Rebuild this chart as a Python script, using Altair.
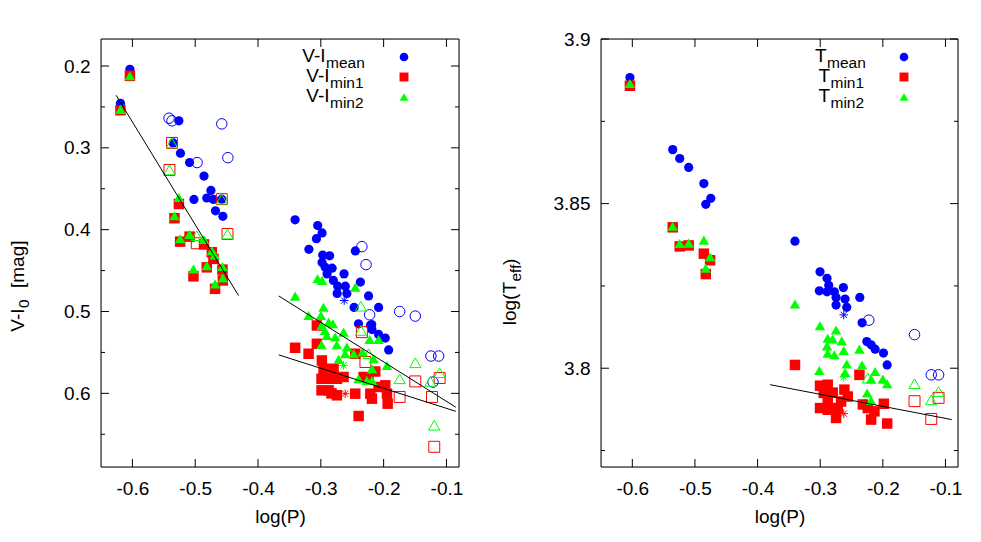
import altair as alt
import pandas as pd

# ---------------- data ----------------
X_TICKS = [-0.6, -0.5, -0.4, -0.3, -0.2, -0.1]
VI_TICKS_MAJOR = [0.2, 0.3, 0.4, 0.5, 0.6]
VI_TICKS_MINOR = [0.25, 0.35, 0.45, 0.55, 0.65]
T_TICKS_MAJOR = [3.8, 3.85, 3.9]
T_TICKS_MINOR = [3.775, 3.825, 3.875]

VI_MEAN = [(-0.604, 0.204), (-0.619, 0.2455), (-0.526, 0.267), (-0.535, 0.294), (-0.5235, 0.3065),
           (-0.509, 0.318), (-0.486, 0.3345), (-0.475, 0.352), (-0.502, 0.363), (-0.4816, 0.3613),
           (-0.471, 0.363), (-0.4677, 0.377), (-0.456, 0.3837), (-0.4577, 0.3627),
           (-0.341, 0.388), (-0.305, 0.395), (-0.298, 0.404), (-0.307, 0.411), (-0.319, 0.424),
           (-0.297, 0.431), (-0.286, 0.432), (-0.245, 0.426), (-0.298, 0.440), (-0.293, 0.446),
           (-0.282, 0.447), (-0.290, 0.454), (-0.263, 0.454), (-0.237, 0.464), (-0.280, 0.462),
           (-0.273, 0.469), (-0.261, 0.469), (-0.274, 0.478), (-0.2585, 0.478), (-0.224, 0.481),
           (-0.247, 0.495), (-0.208, 0.495), (-0.240, 0.515), (-0.219, 0.516), (-0.221, 0.517),
           (-0.2186, 0.522), (-0.208, 0.528), (-0.1974, 0.5325), (-0.192, 0.547)]
VI_MEAN_OPEN = [(-0.5417, 0.2638), (-0.537, 0.267), (-0.4577, 0.2707), (-0.448, 0.312), (-0.497, 0.318),
                (-0.2346, 0.4207), (-0.228, 0.4427), (-0.2223, 0.504), (-0.1745, 0.500), (-0.1496, 0.5056),
                (-0.1247, 0.5544), (-0.1124, 0.5544), (-0.1214, 0.5862)]
VI_MEAN_STAR = [(-0.2628, 0.4866)]

VI_MIN1 = [(-0.604, 0.212), (-0.619, 0.254), (-0.526, 0.3686), (-0.533, 0.386), (-0.524, 0.4146),
           (-0.509, 0.4085), (-0.486, 0.418), (-0.4736, 0.4276), (-0.471, 0.4357), (-0.4566, 0.4488),
           (-0.5028, 0.457), (-0.4816, 0.446), (-0.4684, 0.4723), (-0.456, 0.462),
           (-0.3063, 0.5171), (-0.3409, 0.5443), (-0.3195, 0.5516), (-0.3063, 0.5394), (-0.2983, 0.5598),
           (-0.2956, 0.570), (-0.2797, 0.570), (-0.2989, 0.5822), (-0.2876, 0.5822), (-0.2744, 0.5822),
           (-0.2638, 0.580), (-0.2989, 0.5963), (-0.2876, 0.5963), (-0.2744, 0.6024), (-0.283, 0.600),
           (-0.2452, 0.5516), (-0.2452, 0.6004), (-0.2239, 0.5822), (-0.2212, 0.6004), (-0.2186, 0.6065),
           (-0.208, 0.5922), (-0.1974, 0.5902), (-0.1947, 0.6004), (-0.1936, 0.6126), (-0.2398, 0.6277),
           (-0.2133, 0.5733), (-0.2319, 0.580)]
VI_MIN1_OPEN = [(-0.537, 0.294), (-0.541, 0.327), (-0.4975, 0.4166), (-0.4486, 0.4053), (-0.4577, 0.3627),
                (-0.1745, 0.6044), (-0.1496, 0.5854), (-0.123, 0.6044), (-0.1108, 0.5813), (-0.1194, 0.6653),
                (-0.229, 0.5617), (-0.2346, 0.5252)]
VI_MIN1_STAR = [(-0.2612, 0.6004)]

VI_MIN2 = [(-0.604, 0.212), (-0.619, 0.253), (-0.526, 0.3605), (-0.533, 0.383), (-0.524, 0.411),
           (-0.509, 0.4057), (-0.486, 0.412), (-0.4736, 0.4256), (-0.469, 0.431), (-0.4566, 0.445),
           (-0.5028, 0.448), (-0.4816, 0.4439), (-0.4684, 0.4662), (-0.456, 0.459),
           (-0.3052, 0.460), (-0.298, 0.462), (-0.2452, 0.4703), (-0.3409, 0.4812), (-0.2957, 0.4947),
           (-0.3195, 0.5049), (-0.2999, 0.5049), (-0.2876, 0.513), (-0.2989, 0.517), (-0.2936, 0.5232),
           (-0.2808, 0.515), (-0.2638, 0.5252), (-0.2904, 0.5293), (-0.2771, 0.5312), (-0.2989, 0.5406),
           (-0.2745, 0.5406), (-0.2585, 0.5434), (-0.2612, 0.5516), (-0.2717, 0.5585), (-0.2478, 0.5516),
           (-0.2335, 0.5495), (-0.2223, 0.5341), (-0.208, 0.5341), (-0.2159, 0.5577), (-0.1947, 0.5659),
           (-0.2186, 0.570), (-0.2399, 0.5822), (-0.2266, 0.5842), (-0.2186, 0.5842)]
VI_MIN2_OPEN = [(-0.537, 0.294), (-0.541, 0.327), (-0.4975, 0.4073), (-0.4486, 0.4053), (-0.4577, 0.3627),
                (-0.2362, 0.4935), (-0.2362, 0.5232), (-0.2239, 0.5516), (-0.1745, 0.5822), (-0.1496, 0.5626),
                (-0.1257, 0.5854), (-0.1108, 0.5748), (-0.1194, 0.639)]
VI_MIN2_STAR = [(-0.2638, 0.5659)]

VI_FITS = {"a": [(-0.626, 0.2357), (-0.431, 0.4805)],
           "b": [(-0.367, 0.481), (-0.085, 0.617)],
           "c": [(-0.367, 0.553), (-0.085, 0.622)]}

T_MEAN = [(-0.6038, 3.8883), (-0.5355, 3.8664), (-0.5243, 3.8637), (-0.510, 3.861), (-0.4858, 3.8561),
          (-0.4747, 3.8516), (-0.4827, 3.8498), (-0.3403, 3.8386), (-0.3003, 3.8293), (-0.2891, 3.8273),
          (-0.2864, 3.8252), (-0.3014, 3.8235), (-0.2891, 3.8232), (-0.2774, 3.8232), (-0.263, 3.8245),
          (-0.2747, 3.8215), (-0.2603, 3.821), (-0.2747, 3.8192), (-0.2576, 3.8185), (-0.2368, 3.8215),
          (-0.2331, 3.8138), (-0.2256, 3.8081), (-0.2187, 3.8071), (-0.2123, 3.8058), (-0.199, 3.8046),
          (-0.1931, 3.801)]
T_MEAN_OPEN = [(-0.2224, 3.8146), (-0.1494, 3.8102), (-0.1227, 3.798), (-0.111, 3.798)]
T_MEAN_STAR = [(-0.2624, 3.8162)]

T_MIN1 = [(-0.6038, 3.8858), (-0.5355, 3.8428), (-0.5243, 3.837), (-0.510, 3.8373), (-0.4858, 3.8348),
          (-0.4827, 3.8286), (-0.4758, 3.8328), (-0.3403, 3.801), (-0.2374, 3.798), (-0.3003, 3.7947),
          (-0.288, 3.795), (-0.2614, 3.7935), (-0.2944, 3.7925), (-0.280, 3.7926), (-0.288, 3.7899),
          (-0.2667, 3.7899), (-0.256, 3.7914), (-0.3003, 3.7879), (-0.288, 3.7874), (-0.272, 3.7879),
          (-0.2747, 3.7849), (-0.232, 3.789), (-0.224, 3.7879), (-0.2134, 3.7869), (-0.1984, 3.7892),
          (-0.2187, 3.7844), (-0.1931, 3.7832)]
T_MIN1_OPEN = [(-0.1494, 3.790), (-0.111, 3.791), (-0.1227, 3.7846)]
T_MIN1_STAR = [(-0.2624, 3.7862)]

T_MIN2 = [(-0.6038, 3.8865), (-0.5355, 3.8431), (-0.5243, 3.8379), (-0.510, 3.838), (-0.4858, 3.8389),
          (-0.4827, 3.8304), (-0.4758, 3.8338), (-0.3403, 3.8195), (-0.3003, 3.8129), (-0.2747, 3.8116),
          (-0.288, 3.8091), (-0.280, 3.8089), (-0.2656, 3.8083), (-0.2891, 3.8068), (-0.288, 3.8046),
          (-0.2774, 3.8041), (-0.2624, 3.8054), (-0.2374, 3.8058), (-0.2576, 3.8013), (-0.2331, 3.801),
          (-0.3014, 3.7993), (-0.2603, 3.7987), (-0.2123, 3.799), (-0.2187, 3.7967), (-0.200, 3.7967),
          (-0.1931, 3.7953), (-0.2251, 3.7925), (-0.2187, 3.7902)]
T_MIN2_OPEN = [(-0.224, 3.797), (-0.1494, 3.7953), (-0.1227, 3.7904), (-0.111, 3.7929)]
T_MIN2_STAR = [(-0.2624, 3.7973)]

T_FITS = {"a": [(-0.38, 3.795), (-0.09, 3.7844)]}

# ---------------- style ----------------
BLUE, RED, GREEN = "#0000ff", "#ff0000", "#00ff00"
FONT = "Liberation Sans"
FS, SUB_FS = 19, 15.5
H = 428
STAR = "M-1,0L1,0M0,-1L0,1M-0.72,-0.72L0.72,0.72M-0.72,0.72L0.72,-0.72"
ONE = pd.DataFrame({"k": [0]})


def df(pairs):
    return pd.DataFrame(pairs, columns=["logP", "val"])


def panel(W, ydom, yrev, ymaj, ymin, yfmt, series, fits, main_txt, subs, main_right, title_parts):
    xs = alt.Scale(domain=[-0.65, -0.08], nice=False, zero=False)
    ys = alt.Scale(domain=ydom, nice=False, zero=False, reverse=yrev)
    xax = alt.Axis(values=X_TICKS, ticks=False, tickSize=0, domain=False, grid=False,
                   labelExpr="datum.value < 0 ? '-' + format(-datum.value, '.1f') : format(datum.value, '.1f')",
                   labelFont=FONT, labelFontSize=FS, labelPadding=12, labelColor="black",
                   title="log(P)", titleFont=FONT, titleFontSize=FS, titleFontWeight="normal",
                   titleColor="black", titlePadding=9)
    yax = alt.Axis(values=ymaj, ticks=False, tickSize=0, domain=False, grid=False, format=yfmt,
                   labelFont=FONT, labelFontSize=FS, labelPadding=11, labelColor="black", title=None)
    X = alt.X("logP:Q", scale=xs, axis=xax)
    Y = alt.Y("val:Q", scale=ys, axis=yax)

    layers = []
    for pairs, shape, color, filled, size in series:
        layers.append(alt.Chart(df(pairs)).mark_point(
            shape=shape, filled=filled, color=color, size=size, opacity=1,
            strokeWidth=1).encode(x=X, y=Y))
    fit_rows = []
    for name, pts in fits.items():
        for p in pts:
            fit_rows.append({"fit": name, "logP": p[0], "val": p[1]})
    layers.append(alt.Chart(pd.DataFrame(fit_rows)).mark_line(color="black", strokeWidth=1).encode(
        x=X, y=Y, detail="fit:N"))

    # frame
    layers.append(alt.Chart(ONE).mark_rect(fillOpacity=0, stroke="black", strokeWidth=1).encode(
        x=alt.value(0), x2=alt.value(W), y=alt.value(0), y2=alt.value(H)))
    # inward ticks on all four sides
    xt = pd.DataFrame({"logP": X_TICKS})
    layers.append(alt.Chart(xt).mark_rule(color="black", strokeWidth=1).encode(
        x=X, y=alt.value(H), y2=alt.value(H - 8)))
    layers.append(alt.Chart(xt).mark_rule(color="black", strokeWidth=1).encode(
        x=X, y=alt.value(0), y2=alt.value(8)))
    for vals, ln in ((ymaj, 8), (ymin, 4)):
        yt = pd.DataFrame({"val": vals})
        layers.append(alt.Chart(yt).mark_rule(color="black", strokeWidth=1).encode(
            y=Y, x=alt.value(0), x2=alt.value(ln)))
        layers.append(alt.Chart(yt).mark_rule(color="black", strokeWidth=1).encode(
            y=Y, x=alt.value(W), x2=alt.value(W - ln)))

    # key
    key_y = [16.5, 36.5, 56.5]
    sym = [("circle", BLUE, 75), ("square", RED, 80), ("triangle-up", GREEN, 80)]
    for i in range(3):
        layers.append(alt.Chart(ONE).mark_text(text=main_txt, font=FONT, fontSize=FS, align="right",
                                               baseline="middle", color="black").encode(
            x=alt.value(main_right[i]), y=alt.value(key_y[i])))
        layers.append(alt.Chart(ONE).mark_text(text=subs[i], font=FONT, fontSize=SUB_FS, align="left",
                                               baseline="middle", color="black").encode(
            x=alt.value(main_right[i] + 0.5), y=alt.value(key_y[i] + 7.5)))
        layers.append(alt.Chart(ONE).mark_point(shape=sym[i][0], color=sym[i][1], filled=True,
                                                size=sym[i][2], opacity=1).encode(
            x=alt.value(303), y=alt.value(key_y[i] + 1.5)))

    # rotated y title with subscript
    tx, anchor, main, sub, rest, rest_at = title_parts
    layers.append(alt.Chart(ONE).mark_text(text=main, font=FONT, fontSize=FS, angle=270, align="right",
                                           baseline="middle", color="black").encode(
        x=alt.value(tx), y=alt.value(anchor)))
    layers.append(alt.Chart(ONE).mark_text(text=sub, font=FONT, fontSize=SUB_FS, angle=270, align="left",
                                           baseline="middle", dy=6, color="black").encode(
        x=alt.value(tx), y=alt.value(anchor - 0.5)))
    layers.append(alt.Chart(ONE).mark_text(text=rest, font=FONT, fontSize=FS, angle=270, align="left",
                                           baseline="middle", color="black").encode(
        x=alt.value(tx), y=alt.value(rest_at)))
    return alt.layer(*layers).properties(width=W, height=H)


left = panel(
    358, [0.167, 0.69], True, VI_TICKS_MAJOR, VI_TICKS_MINOR, ".1f",
    [(VI_MEAN, "circle", BLUE, True, 85), (VI_MEAN_OPEN, "circle", BLUE, False, 110),
     (VI_MEAN_STAR, STAR, BLUE, False, 75),
     (VI_MIN1, "square", RED, True, 110), (VI_MIN1_OPEN, "square", RED, False, 120),
     (VI_MIN1_STAR, STAR, RED, False, 75),
     (VI_MIN2, "triangle-up", GREEN, True, 110), (VI_MIN2_OPEN, "triangle-up", GREEN, False, 125),
     (VI_MIN2_STAR, STAR, GREEN, False, 75)],
    VI_FITS, "V-I", ["mean", "min1", "min2"], [224.5, 228.5, 228.5],
    (-83, 269.5, "V-I", "0", "[mag]", 249))

right = panel(
    357, [3.77, 3.9], False, T_TICKS_MAJOR, T_TICKS_MINOR, ".2~f",
    [(T_MEAN, "circle", BLUE, True, 85), (T_MEAN_OPEN, "circle", BLUE, False, 110),
     (T_MEAN_STAR, STAR, BLUE, False, 75),
     (T_MIN1, "square", RED, True, 110), (T_MIN1_OPEN, "square", RED, False, 120),
     (T_MIN1_STAR, STAR, RED, False, 75),
     (T_MIN2, "triangle-up", GREEN, True, 110), (T_MIN2_OPEN, "triangle-up", GREEN, False, 125),
     (T_MIN2_STAR, STAR, GREEN, False, 75)],
    T_FITS, "T", ["mean", "min1", "min2"], [225.5, 229, 229],
    (-91, 243, "log(T", "eff", ")", 226))

chart = alt.hconcat(left, right, spacing=36).properties(
    padding={"left": 0, "top": 21, "right": 5, "bottom": 5},
    background="white",
).configure_view(stroke=None).configure(font=FONT)

chart.save("out.html", embed_options={"renderer": "svg", "actions": False})
